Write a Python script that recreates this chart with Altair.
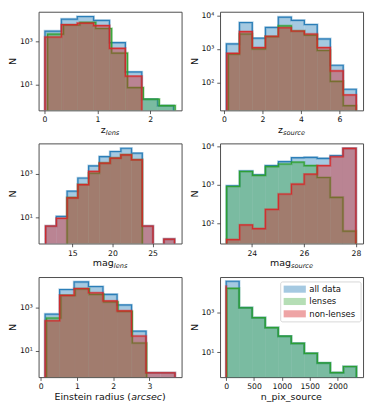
import altair as alt
import pandas as pd

# ------------------------------------------------------------------ data
# z_lens
ZL_ALL_E = [0.01, 0.32, 0.62, 0.93, 1.23, 1.53, 1.84, 2.14, 2.44]
ZL_ALL_N = [3100, 11300, 15000, 9800, 900, 38, 2, 1]
ZL_LEN_E = [0.06, 0.36, 0.67, 0.97, 1.27, 1.57, 1.87, 2.17, 2.47]
ZL_LEN_N = [2240, 6000, 7900, 4100, 290, 7, 2, 1]
ZL_NON_E = [0.01, 0.32, 0.62, 0.93, 1.23, 1.53, 1.84]
ZL_NON_N = [1640, 6200, 7400, 5600, 480, 24]

# z_source
ZS_ALL_E = [0.12, 0.80, 1.47, 2.15, 2.82, 3.50, 4.18, 4.85, 5.53, 6.20, 6.88]
ZS_ALL_N = [1420, 6200, 2100, 4400, 9000, 7200, 5400, 2000, 325, 62]
ZS_LEN_E = [0.22, 0.80, 1.47, 2.15, 2.82, 3.50, 4.18, 4.85, 5.53, 6.20, 6.88]
ZS_LEN_N = [700, 2800, 1000, 2350, 4900, 3450, 2600, 900, 107, 20]
ZS_NON_E = [0.14, 0.80, 1.47, 2.15, 2.82, 3.50, 4.18, 4.85, 5.53, 6.20, 6.88]
ZS_NON_N = [740, 3300, 1100, 2400, 4300, 3450, 2800, 1100, 220, 42]

# mag_lens
ML_ALL_E = [11.67, 13.01, 14.35, 15.69, 17.03, 18.37, 19.71, 21.05, 22.39, 23.73, 25.07, 26.41, 27.75]
ML_ALL_N = [4, 11, 158, 635, 2300, 6100, 10400, 14700, 8700, 4, 0, 1]
ML_LEN_E = [14.35, 15.69, 17.03, 18.37, 19.71, 21.05, 22.39, 23.73]
ML_LEN_N = [80, 320, 1050, 3050, 5200, 7400, 4350]
ML_NON_E = [11.67, 13.01, 14.35, 15.69, 17.03, 18.37, 19.71, 21.05, 22.39, 23.73, 25.07, 26.41, 27.75]
ML_NON_N = [4, 9, 78, 316, 1270, 3050, 5200, 7300, 4350, 4, 0, 1]

# mag_source
MS_ALL_E = [23.03, 23.53, 24.03, 24.52, 25.02, 25.52, 26.01, 26.51, 27.01, 27.50, 28.00]
MS_ALL_N = [950, 2300, 1830, 3170, 4050, 5100, 5200, 4900, 5770, 8900]
MS_LEN_E = [23.03, 23.53, 24.03, 24.52, 25.02, 25.52, 26.01, 26.51, 27.01, 27.50, 28.00]
MS_LEN_N = [910, 2230, 1760, 3000, 3500, 3900, 3170, 1560, 475, 63]
MS_NON_E = [23.03, 23.53, 24.03, 24.52, 25.02, 25.52, 26.01, 26.51, 27.01, 27.50, 28.00]
MS_NON_N = [38, 91, 73, 230, 580, 1050, 1900, 3170, 5400, 8900]

# Einstein radius
ER_ALL_E = [0.12, 0.52, 0.92, 1.32, 1.72, 2.11, 2.51, 2.91, 3.31, 3.71]
ER_ALL_N = [480, 6460, 14400, 8830, 3850, 1270, 80, 1, 1]
ER_LEN_E = [0.16, 0.555, 0.95, 1.345, 1.74, 2.135, 2.53, 2.925]
ER_LEN_N = [320, 3470, 6900, 3850, 1740, 640, 23]
ER_NON_E = [0.12, 0.52, 0.92, 1.32, 1.72, 2.11, 2.51, 2.91, 3.31, 3.71]
ER_NON_N = [240, 3470, 7180, 4580, 1930, 680, 48, 1, 1]

# n_pix_source
NP_ALL_E = [0, 234, 468, 702, 936, 1170, 1404, 1638, 1872, 2106, 2340]
NP_ALL_N = [34000, 1670, 535, 172, 64, 28, 9, 3, 1, 2]
NP_LEN_E = [10, 234, 468, 702, 936, 1170, 1404, 1638, 1872, 2106, 2340]
NP_LEN_N = [15000, 1640, 530, 170, 64, 28, 9, 3, 1, 2]
NP_NON_E = [0.0, 0.1]
NP_NON_N = [19000]

LEGEND_LABELS = ["all data", "lenses", "non-lenses"]

# ------------------------------------------------------------------ style
BLUE, GREEN, RED = "#1f77b4", "#2ca02c", "#d62728"
ALPHA = {BLUE: 0.4, GREEN: 0.35, RED: 0.42}
FONT = "DejaVu Sans"
BASE = 0.01
W = 145
TITLE_FS = 9.6
SUB_FS = 6.7
ADV = {"a": 1255, "c": 1126, "d": 1300, "e": 1260, "g": 1300, "i": 569, "l": 569,
       "m": 1995, "n": 1298, "o": 1253, "p": 1300, "r": 842, "s": 1067, "t": 803,
       "u": 1298, "x": 1212, "z": 1075, "E": 1294, "(": 799, ")": 799, " ": 651, "_": 1024}


def text_w(s, fs):
    return sum(ADV.get(ch, 1200) for ch in s) / 2048.0 * fs


LABEL_EXPR = ("datum.value == 1 ? '10⁰' : datum.value == 10 ? '10¹' : "
              "datum.value == 100 ? '10²' : datum.value == 1000 ? '10³' : "
              "datum.value == 10000 ? '10⁴' : ''")


def step_path(edges, counts):
    xs, ys = [edges[0]], [BASE]
    for i, c in enumerate(counts):
        v = c if c > 0 else BASE
        xs += [edges[i], edges[i + 1]]
        ys += [v, v]
    xs.append(edges[-1])
    ys.append(BASE)
    return pd.DataFrame({"x": xs, "y": ys, "o": list(range(len(xs)))})


def panel(series, xdom, ydom, xticks, yticks, title_parts, H, extra=None):
    xs = alt.Scale(domain=xdom, nice=False, zero=False)
    ys = alt.Scale(type="log", domain=ydom, nice=False)
    xaxis = alt.Axis(values=xticks, title=None, format="d", labelFlush=False, labelOverlap=False)
    yaxis = alt.Axis(values=yticks, title="N", labelExpr=LABEL_EXPR, labelOverlap=False)
    layers = []
    for edges, counts, color in series:
        df = pd.DataFrame({"x0": edges[:-1], "x1": edges[1:], "n": counts})
        df = df[df.n > 0].copy()
        df["base"] = BASE
        layers.append(
            alt.Chart(df).mark_rect(color=color, opacity=ALPHA[color], clip=True).encode(
                x=alt.X("x0:Q", scale=xs, axis=xaxis),
                x2="x1:Q",
                y=alt.Y("n:Q", scale=ys, axis=yaxis),
                y2="base:Q",
            )
        )
        path = step_path(edges, counts)
        for sw, op in [(2.6, 0.3), (1.2, 0.9)]:
            layers.append(
                alt.Chart(path).mark_line(color=color, strokeWidth=sw, opacity=op,
                                          clip=True, strokeJoin="miter").encode(
                    x=alt.X("x:Q", scale=xs, axis=xaxis),
                    y=alt.Y("y:Q", scale=ys, axis=yaxis),
                    order="o:Q",
                )
            )
    total = sum(text_w(t, fs) for t, fs, it, dy in title_parts)
    xpos = W / 2 - total / 2
    one = pd.DataFrame({"a": [0]})
    for t, fs, it, dy in title_parts:
        layers.append(
            alt.Chart(one).mark_text(text=t, align="left", baseline="alphabetic",
                                     fontSize=fs, font=FONT, color="#111",
                                     fontStyle="italic" if it else "normal").encode(
                x=alt.value(xpos), y=alt.value(H + 23 + dy))
        )
        xpos += text_w(t, fs)
    if extra:
        layers += extra
    return alt.layer(*layers).properties(width=W, height=H)


def legend_layers():
    one = pd.DataFrame({"a": [0]})
    out = [alt.Chart(one).mark_rect(fill="white", fillOpacity=0.8, stroke="#cccccc",
                                    strokeWidth=0.8, cornerRadius=2).encode(
        x=alt.value(61.5), x2=alt.value(143), y=alt.value(5), y2=alt.value(45.5))]
    rows = [12.3, 24.8, 37.3]
    for lab, col, yc in zip(LEGEND_LABELS, [BLUE, GREEN, RED], rows):
        out.append(alt.Chart(one).mark_rect(color=col, opacity=ALPHA[col]).encode(
            x=alt.value(64.5), x2=alt.value(87), y=alt.value(yc - 3.6), y2=alt.value(yc + 3.6)))
        out.append(alt.Chart(one).mark_text(text=lab, align="left", baseline="middle",
                                            fontSize=8.6, font=FONT, color="#111").encode(
            x=alt.value(90.5), y=alt.value(yc)))
    return out


p1 = panel([(ZL_ALL_E, ZL_ALL_N, BLUE), (ZL_LEN_E, ZL_LEN_N, GREEN), (ZL_NON_E, ZL_NON_N, RED)],
           [-0.11, 2.59], [0.6, 25100], [0, 1, 2], [10, 1000],
           [("z", TITLE_FS, False, 0), ("lens", SUB_FS, True, 2)], 100)
p2 = panel([(ZS_ALL_E, ZS_ALL_N, BLUE), (ZS_LEN_E, ZS_LEN_N, GREEN), (ZS_NON_E, ZS_NON_N, RED)],
           [-0.21, 7.23], [14.5, 13000], [0, 2, 4, 6], [100, 1000, 10000],
           [("z", TITLE_FS, False, 0), ("source", SUB_FS, True, 2)], 100)
p3 = panel([(ML_ALL_E, ML_ALL_N, BLUE), (ML_LEN_E, ML_LEN_N, GREEN), (ML_NON_E, ML_NON_N, RED)],
           [10.8, 28.62], [0.63, 24500], [15, 20, 25], [10, 1000],
           [("mag", TITLE_FS, False, 0), ("lens", SUB_FS, True, 2)], 101.5)
p4 = panel([(MS_ALL_E, MS_ALL_N, BLUE), (MS_LEN_E, MS_LEN_N, GREEN), (MS_NON_E, MS_NON_N, RED)],
           [22.78, 28.27], [30, 12000], [24, 26, 28], [100, 1000, 10000],
           [("mag", TITLE_FS, False, 0), ("source", SUB_FS, True, 2)], 101.5)
p5 = panel([(ER_ALL_E, ER_ALL_N, BLUE), (ER_LEN_E, ER_LEN_N, GREEN), (ER_NON_E, ER_NON_N, RED)],
           [-0.06, 3.89], [0.63, 24000], [0, 1, 2, 3], [10, 1000],
           [("Einstein radius (", TITLE_FS, False, 0), ("arcsec", TITLE_FS, True, 0),
            (")", TITLE_FS, False, 0)], 101.5)
p6 = panel([(NP_ALL_E, NP_ALL_N, BLUE), (NP_LEN_E, NP_LEN_N, GREEN), (NP_NON_E, NP_NON_N, RED)],
           [-110, 2458], [0.594, 55000], [0, 500, 1000, 1500, 2000], [10, 1000],
           [("n_pix_source", TITLE_FS, False, 0)], 101.5, extra=legend_layers())

chart = alt.concat(p1, p2, p3, p4, p5, p6, columns=2, bounds="flush",
                   spacing={"row": 33.5, "column": 39}).properties(
    padding={"left": -1, "top": 0, "right": 2, "bottom": 2}
).configure_view(
    stroke="#4d4d4d", strokeWidth=1
).configure_axis(
    grid=False, domain=False, ticks=True, tickSize=3.3, tickWidth=0.8, tickColor="#333333",
    labelFont=FONT, labelFontSize=7.8, labelColor="#111111", labelPadding=3,
    titleFont=FONT, titleFontSize=TITLE_FS, titleFontWeight="normal", titleColor="#111111",
    titlePadding=2
).configure_axisX(labelPadding=2.5)

chart.save("out.html", embed_options={"renderer": "svg", "actions": False})
